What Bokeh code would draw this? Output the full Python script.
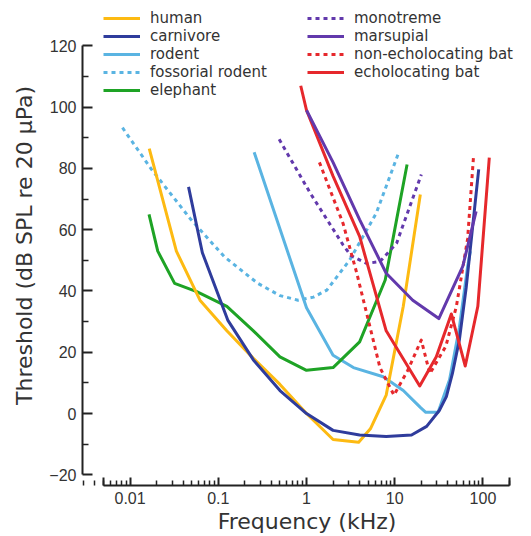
from bokeh.plotting import figure
from bokeh.models import (Range1d, FixedTicker, CustomJSTickFormatter, Legend,
                          LegendItem, ColumnDataSource)
from bokeh.embed import file_html
from bokeh.resources import INLINE

# ---- data (frequency in kHz, threshold in dB SPL) ----
human_f = [0.0165, 0.0335, 0.062, 0.125, 0.25, 0.5, 1.0, 2.0, 3.9, 5.3, 8.0, 12.5, 19.5]
human_db = [86.5, 53, 37, 27, 18, 9.5, 0, -8.5, -9.4, -5, 6, 35, 71.5]

carnivore_f = [0.046, 0.066, 0.128, 0.25, 0.5, 1.0, 2.0, 4.0, 8.0, 15.5, 23, 32, 38.5, 45, 54, 64.5, 89.5]
carnivore_db = [74, 52.5, 30.5, 17.5, 7.5, 0, -5.5, -7, -7.5, -7, -4.2, 1, 5.5, 13, 24, 41, 79.7]

rodent_f = [0.255, 1.0, 2.0, 3.4, 7.4, 12.5, 19.5, 22.5, 31, 41.8, 54, 67, 72]
rodent_db = [85.3, 34.5, 19, 15, 12, 7.5, 2, 0.4, 0.4, 11, 28, 48, 53]

fossorial_f = [0.0082, 0.0175, 0.049, 0.117, 0.28, 0.5, 0.8, 1.2, 1.7, 3.1, 6.2, 10.9]
fossorial_db = [93.3, 79.7, 63.3, 51.2, 42.5, 38.5, 37, 38, 40.3, 50.2, 65.5, 84.6]

elephant_f = [0.0164, 0.0206, 0.032, 0.057, 0.125, 0.25, 0.5, 1.0, 2.0, 4.0, 7.8, 10.5, 13.8]
elephant_db = [65, 53, 42.5, 39.8, 35, 27, 18.5, 14.1, 15, 23.4, 43.6, 63.3, 81.3]

monotreme_f = [0.49, 1.1, 2.6, 3.2, 4.8, 6.8, 10.5, 20]
monotreme_db = [89.5, 72, 55, 51.5, 49, 49.6, 55.6, 78]

marsupial_f = [1.0, 2.0, 4.0, 8.0, 16, 31.6, 59, 83.6]
marsupial_db = [99, 82, 63.3, 45.8, 37, 31, 48, 66]

nonecho_f = [1.4, 2.6, 3.7, 6.8, 9.8, 14, 20, 25, 38, 50, 67, 78]
nonecho_db = [82, 62, 46, 15, 6, 14, 24, 13, 22, 35, 57, 83.5]

echo_f = [0.86, 1.0, 2.0, 4.0, 8.0, 19.2, 29.6, 43.8, 63, 87.5, 118]
echo_db = [107, 99, 77.5, 57.8, 27, 9, 18.5, 32.5, 15.5, 35, 83.5]

y_ticks = [-20, 0, 20, 40, 60, 80, 100, 120]
y_minor = [-10, 10, 30, 50, 70, 90, 110]
x_ticks = [0.005, 0.01, 0.1, 1, 10, 100, 200]
x_minor = [m * d for d in [0.001, 0.01, 0.1, 1, 10] for m in range(2, 10)] + [200]

# ---- styles ----
YELLOW = "#FDBA12"
DBLUE = "#2F3C9C"
LBLUE = "#5AB4E2"
GREEN = "#1EA325"
PURPLE = "#6239AC"
RED = "#E6282C"
DOT = "4 4"
LW = 3

p = figure(width=531, height=536, x_axis_type="log",
           x_range=Range1d(0.00289, 355), y_range=Range1d(-23.5, 133.2),
           output_backend="svg", toolbar_location=None,
           min_border_left=82, min_border_right=0,
           min_border_top=5, min_border_bottom=51)
p.xgrid.visible = False
p.ygrid.visible = False
p.outline_line_color = None
p.background_fill_color = "white"
p.border_fill_color = "white"

def line(f, db, color, dash="solid"):
    src = ColumnDataSource(dict(x=f, y=db))
    return p.line("x", "y", source=src, line_color=color, line_width=LW,
                  line_dash=dash, line_join="round", line_cap="butt")

r_foss = line(fossorial_f, fossorial_db, LBLUE, DOT)
r_rod = line(rodent_f, rodent_db, LBLUE)
r_ele = line(elephant_f, elephant_db, GREEN)
r_hum = line(human_f, human_db, YELLOW)
r_car = line(carnivore_f, carnivore_db, DBLUE)
r_mono = line(monotreme_f, monotreme_db, PURPLE, DOT)
r_non = line(nonecho_f, nonecho_db, RED, DOT)
r_echo = line(echo_f, echo_db, RED)
r_mar = line(marsupial_f, marsupial_db, PURPLE)

# ---- axes ----
xa = p.xaxis[0]
xa.ticker = FixedTicker(ticks=x_ticks, minor_ticks=x_minor)
xa.formatter = CustomJSTickFormatter(code="return (tick < 0.008 || tick > 150) ? '' : String(tick);")
xa.bounds = (0.005, 200)
xa.axis_label = "Frequency (kHz)"
xa.major_tick_in = 8
xa.major_tick_out = 0
xa.minor_tick_in = 5
xa.minor_tick_out = 0
xa.major_label_standoff = 6
xa.axis_label_standoff = 2

ya = p.yaxis[0]
ya.ticker = FixedTicker(ticks=y_ticks, minor_ticks=y_minor)
ya.bounds = (-20, 120)
ya.axis_label = "Threshold (dB SPL re 20 μPa)"
ya.major_tick_in = 10
ya.major_tick_out = 0
ya.minor_tick_in = 6
ya.minor_tick_out = 0
ya.major_label_standoff = 6
ya.axis_label_standoff = 9

for ax in (xa, ya):
    ax.axis_line_color = "#222222"
    ax.axis_line_width = 2
    ax.major_tick_line_color = "#222222"
    ax.major_tick_line_width = 2
    ax.minor_tick_line_color = "#222222"
    ax.minor_tick_line_width = 1.5
    ax.major_label_text_font = "Liberation Sans"
    ax.major_label_text_font_size = "16px"
    ax.major_label_text_color = "#333333"
    ax.axis_label_text_font = "DejaVu Sans"
    ax.axis_label_text_font_size = "22px"
    ax.axis_label_text_font_style = "normal"
    ax.axis_label_text_color = "#333333"

# ---- legends ----
def make_legend(items, loc):
    lg = Legend(items=items, location=loc, orientation="vertical",
                padding=0, margin=0, spacing=0,
                glyph_width=37, glyph_height=18, label_height=18,
                label_standoff=10,
                label_text_font="DejaVu Sans", label_text_font_size="15px",
                label_text_color="#333333",
                border_line_color=None, background_fill_alpha=0)
    p.add_layout(lg)
    return lg

make_legend([
    LegendItem(label="human", renderers=[r_hum]),
    LegendItem(label="carnivore", renderers=[r_car]),
    LegendItem(label="rodent", renderers=[r_rod]),
    LegendItem(label="fossorial rodent", renderers=[r_foss]),
    LegendItem(label="elephant", renderers=[r_ele]),
], (21, 386))

make_legend([
    LegendItem(label="monotreme", renderers=[r_mono]),
    LegendItem(label="marsupial", renderers=[r_mar]),
    LegendItem(label="non-echolocating bat", renderers=[r_non]),
    LegendItem(label="echolocating bat", renderers=[r_echo]),
], (225, 404))

open("out.html", "w").write(file_html(p, INLINE))
